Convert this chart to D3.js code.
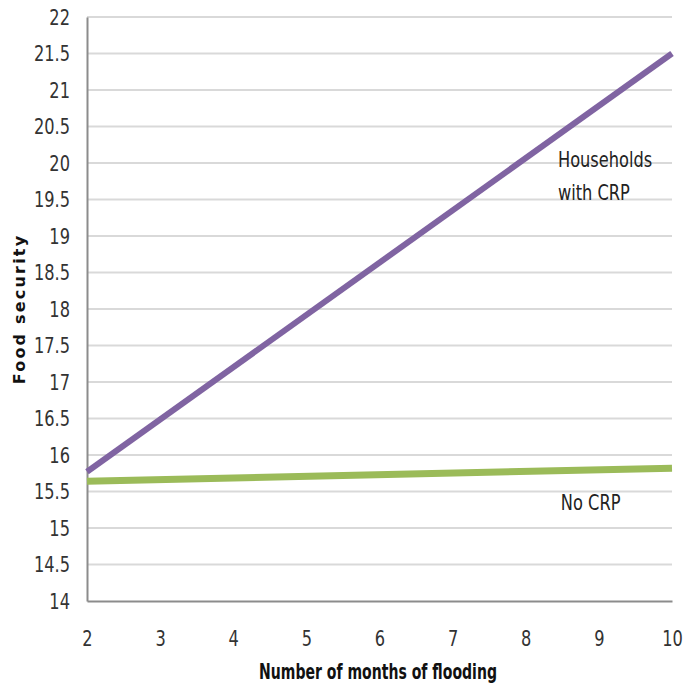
<!DOCTYPE html>
<html>
<head>
<meta charset="utf-8">
<script src="https://cdn.jsdelivr.net/npm/d3@7"></script>
<style>
    body { margin: 0; background: #fff; }
    .narrow { font-family: "DejaVu Sans Condensed", "DejaVu Sans", sans-serif; font-stretch: condensed; }
</style>
</head>
<body>
<script>
// Food security vs months of flooding, two lines

var months = [2, 10];
var withCrp = [15.77, 21.5];
var noCrp = [15.64, 15.82];
var xTicks = [2, 3, 4, 5, 6, 7, 8, 9, 10];
var yTicks = d3.range(14, 22.01, 0.5);

var margin = {top: 17, right: 12, bottom: 85, left: 87},
    width = 684 - margin.left - margin.right,
    height = 686 - margin.top - margin.bottom;

// squeeze the text sideways, the original font is very narrow
var squeeze = 0.82;

var svg = d3.select("body").append("svg")
    .attr("width", 684)
    .attr("height", 686)
    .append("g")
    .attr("transform", "translate(" + margin.left + "," + margin.top + ")");

var xScale = d3.scaleLinear().domain([2, 10]).range([0, width]);
var yScale = d3.scaleLinear().domain([14, 22]).range([height, 0]);

// gridlines
svg.append("g")
    .selectAll("line")
    .data(yTicks.slice(1))
    .enter()
    .append("line")
    .attr("x1", 0)
    .attr("x2", width)
    .attr("y1", function(d) { return yScale(d); })
    .attr("y2", function(d) { return yScale(d); })
    .attr("stroke", "#d9d9d9")
    .attr("stroke-width", 2);

// y axis
var yAxis = d3.axisLeft(yScale)
    .tickValues(yTicks)
    .tickSize(0)
    .tickPadding(17)
    .tickFormat(d3.format("~g"));
var gy = svg.append("g").call(yAxis);
gy.select(".domain").attr("stroke", "#8c8c8c").attr("stroke-width", 2);
gy.selectAll("text").attr("class", "narrow")
    .attr("font-size", "22px").attr("fill", "#333")
    .attr("x", -17 / squeeze)
    .attr("transform", "scale(" + squeeze + ",1)");

// x axis
var xAxis = d3.axisBottom(xScale)
    .tickValues(xTicks)
    .tickSize(0)
    .tickPadding(29)
    .tickFormat(d3.format("d"));
var gx = svg.append("g")
    .attr("transform", "translate(0," + height + ")")
    .call(xAxis);
gx.select(".domain").attr("stroke", "#8c8c8c").attr("stroke-width", 2);
gx.selectAll("text").attr("class", "narrow")
    .attr("font-size", "22px").attr("fill", "#333")
    .attr("transform", "scale(" + squeeze + ",1)");

var line = d3.line()
    .x(function(d) { return xScale(d[0]); })
    .y(function(d) { return yScale(d[1]); });

svg.append("path")
    .datum(d3.zip(months, noCrp))
    .attr("d", line)
    .attr("fill", "none")
    .attr("stroke", "#9bbb59")
    .attr("stroke-width", 7);

svg.append("path")
    .datum(d3.zip(months, withCrp))
    .attr("d", line)
    .attr("fill", "none")
    .attr("stroke", "#8064a2")
    .attr("stroke-width", 6);

// line labels
function label(x, y, txt) {
    svg.append("text")
        .attr("class", "narrow")
        .attr("font-size", "22px")
        .attr("fill", "#222")
        .attr("transform", "translate(" + xScale(x) + "," + yScale(y) +
              ") scale(" + squeeze + ",1)")
        .text(txt);
}
label(8.44, 19.95, "Households");
label(8.44, 19.50, "with CRP");
label(8.48, 15.25, "No CRP");

// axis titles
svg.append("text")
    .attr("class", "narrow")
    .attr("text-anchor", "middle")
    .attr("font-weight", "bold")
    .attr("font-size", "21px")
    .attr("fill", "#111")
    .attr("textLength", 238)
    .attr("lengthAdjust", "spacingAndGlyphs")
    .attr("x", 378 - margin.left)
    .attr("y", height + 78)
    .text("Number of months of flooding");

svg.append("text")
    .attr("text-anchor", "middle")
    .attr("font-family", "'DejaVu Sans', sans-serif")
    .attr("font-weight", "bold")
    .attr("font-size", "16px")
    .attr("letter-spacing", "2.2px")
    .attr("fill", "#111")
    .attr("transform", "translate(" + (-62) + "," + yScale(18.0) + ") rotate(-90)")
    .text("Food security");
</script>
</body>
</html>
